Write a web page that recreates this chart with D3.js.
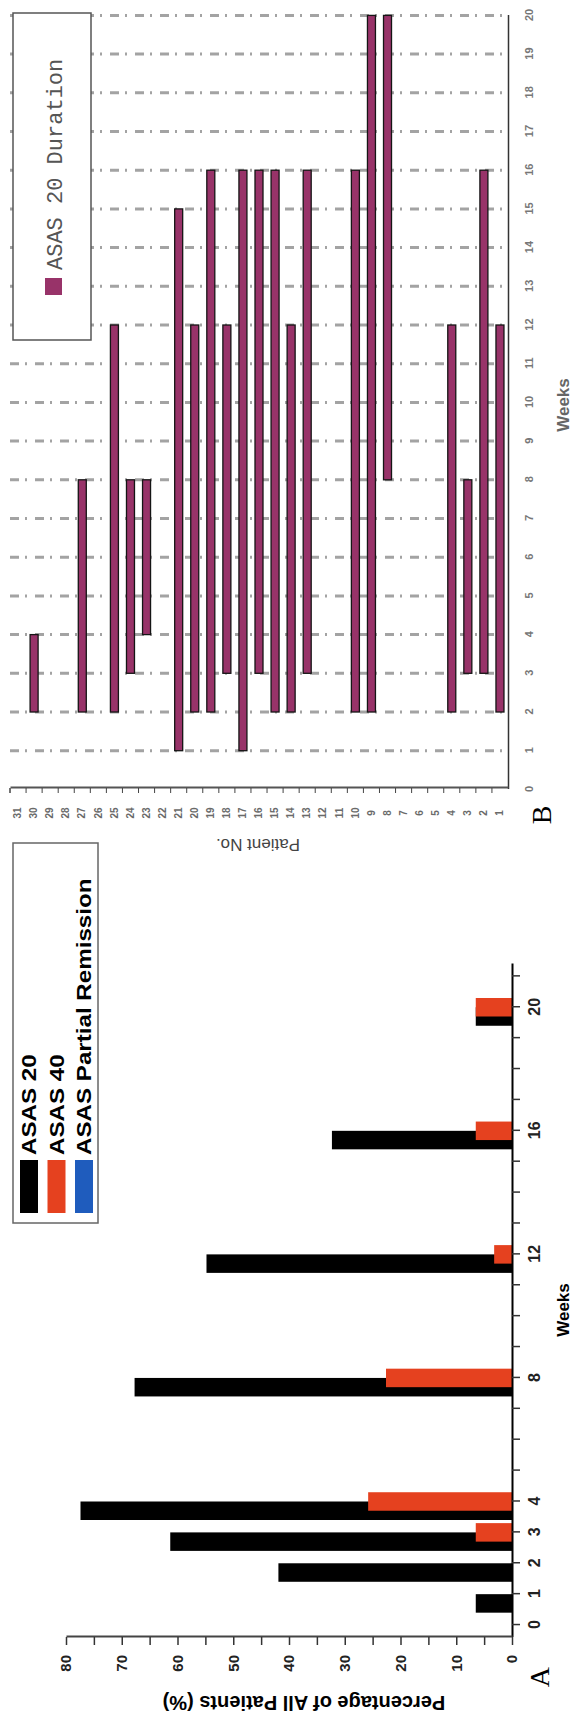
<!DOCTYPE html>
<html lang="en">
<head>
<meta charset="UTF-8">
<title>ASAS response and duration</title>
<script src="https://d3js.org/d3.v7.min.js"></script>
<style>
  body { margin: 0; background: #fff; }
  svg { display: block; font-family: "Liberation Sans", Arial, sans-serif; }
</style>
</head>
<body>
<div id="chart"></div>
<script>
// ---- panel A: percentage of all patients by week
const weeksA = [1, 2, 3, 4, 8, 12, 16, 20];
const asas20 = [6.5, 41.9, 61.3, 77.4, 67.7, 54.8, 32.3, 6.5];
const asas40 = [0, 0, 6.5, 25.8, 22.6, 3.2, 6.5, 6.5];
const asasPR = [0, 0, 0, 0, 0, 0, 0, 0];
const weekLabelsA = [0, 1, 2, 3, 4, 8, 12, 16, 20];
const pctLabels = [0, 10, 20, 30, 40, 50, 60, 70, 80];
const seriesNames = ["ASAS 20", "ASAS 40", "ASAS Partial Remission"];
const seriesColors = ["#000000", "#e5411f", "#1f5cbd"];

// ---- panel B: ASAS 20 duration per patient
const patients = [1,2,3,4,5,6,7,8,9,10,11,12,13,14,15,16,17,18,19,20,21,22,23,24,25,26,27,28,29,30,31];
const durPatient = [1, 2, 3, 4, 8, 9, 10, 13, 14, 15, 16, 17, 18, 19, 20, 21, 23, 24, 25, 27, 30];
const durStart   = [2, 3, 3, 2, 8, 2, 2, 3, 2, 2, 3, 1, 3, 2, 2, 1, 4, 3, 2, 2, 2];
const durEnd     = [12, 16, 8, 12, 20, 20, 16, 16, 12, 16, 16, 16, 12, 16, 12, 15, 8, 8, 12, 8, 4];
const weekLabelsB = [0,1,2,3,4,5,6,7,8,9,10,11,12,13,14,15,16,17,18,19,20];

// the whole figure is drawn upright and turned a quarter turn counter-clockwise
const W = 1719;
const svg = d3.select("#chart").append("svg")
    .attr("width", 575)
    .attr("height", 1719);
const g = svg.append("g").attr("transform", `translate(0,${W}) rotate(-90)`);

// ================= panel A =================
const xA = d3.scaleLinear().domain([-0.4, 21.4]).range([81.6, 755]);
const yA = d3.scaleLinear().domain([0, 80]).range([512, 66]);
const bw = 18.5;
const offsets = [-0.3, 0, 0.3];

const barData = [];
[asas20, asas40, asasPR].forEach((vals, si) => {
    weeksA.forEach((w, i) => barData.push({ s: si, week: w, v: vals[i] }));
});

g.append("g").selectAll("rect")
    .data(barData.filter(d => d.v > 0))
    .join("rect")
    .attr("x", d => xA(d.week + offsets[d.s]) - bw / 2)
    .attr("width", bw)
    .attr("y", d => yA(d.v))
    .attr("height", d => yA(0) - yA(d.v))
    .attr("fill", d => seriesColors[d.s]);

const axA = g.append("g")
    .attr("transform", "translate(0,512)")
    .call(d3.axisBottom(xA)
        .tickValues(d3.range(0, 22))
        .tickSize(8)
        .tickSizeOuter(0)
        .tickPadding(9)
        .tickFormat(d => weekLabelsA.includes(d) ? d : ""));
axA.select(".domain").attr("stroke", "#000").attr("stroke-width", 2);
axA.selectAll(".tick line").attr("stroke", "#333").attr("stroke-width", 1.5);
axA.selectAll("text").attr("font-size", 16).attr("font-weight", "bold").attr("fill", "#222");

const ayA = g.append("g")
    .attr("transform", "translate(82,0)")
    .call(d3.axisLeft(yA)
        .tickValues(d3.range(0, 85, 5))
        .tickSize(8)
        .tickSizeOuter(0)
        .tickPadding(10)
        .tickFormat(d => pctLabels.includes(d) ? d : ""));
ayA.select(".domain").attr("stroke", "#444").attr("stroke-width", 2);
ayA.selectAll(".tick line").attr("stroke", "#333").attr("stroke-width", 1.5);
ayA.selectAll("text").attr("font-size", 15).attr("font-weight", "bold").attr("fill", "#222");

g.append("text")
    .attr("transform", "translate(23,304) rotate(-90)")
    .attr("text-anchor", "middle")
    .attr("font-size", 20)
    .attr("font-weight", "bold")
    .text("Percentage of All Patients (%)");

g.append("text")
    .attr("x", 409).attr("y", 569)
    .attr("text-anchor", "middle")
    .attr("font-size", 17)
    .attr("font-weight", "bold")
    .text("Weeks");

g.append("text")
    .attr("x", 42).attr("y", 549)
    .attr("text-anchor", "middle")
    .attr("font-family", "Liberation Serif, Times New Roman, serif")
    .attr("font-size", 28)
    .text("A");

// legend A
const legA = g.append("g");
legA.append("rect")
    .attr("x", 496).attr("y", 13).attr("width", 380).attr("height", 85)
    .attr("fill", "#fff").attr("stroke", "#666").attr("stroke-width", 1.5);
seriesNames.forEach((name, i) => {
    legA.append("rect")
        .attr("x", 506).attr("y", 20 + i * 27.5).attr("width", 53).attr("height", 18)
        .attr("fill", seriesColors[i]);
    const t = legA.append("text")
        .attr("x", 564).attr("y", 36 + i * 27.5)
        .attr("font-size", 21).attr("font-weight", "bold")
        .text(name);
    // the original lettering is a little wider than Liberation Sans
    const len = t.node().getComputedTextLength();
    t.attr("textLength", len * 1.15).attr("lengthAdjust", "spacingAndGlyphs");
});

// ================= panel B =================
const xB = d3.scaleLinear().domain([0, 20]).range([929.6, 1703.6]);
const yB = d3.scaleBand().domain(patients.slice().reverse()).range([10, 508]);
const barColor = "#983369";

g.append("g").selectAll("line")
    .data(weekLabelsB.filter(w => w > 0))
    .join("line")
    .attr("x1", d => xB(d)).attr("x2", d => xB(d))
    .attr("y1", 10).attr("y2", 508)
    .attr("stroke", "#a3a3a3")
    .attr("stroke-width", 3)
    .attr("stroke-dasharray", "9,6,2,8");

const durData = durPatient.map((p, i) => ({ p, s: durStart[i], e: durEnd[i] }));
g.append("g").selectAll("rect")
    .data(durData)
    .join("rect")
    .attr("x", d => xB(d.s))
    .attr("width", d => xB(d.e) - xB(d.s))
    .attr("y", d => yB(d.p) + yB.bandwidth() / 2 - 4)
    .attr("height", 8)
    .attr("fill", barColor)
    .attr("stroke", "#151515")
    .attr("stroke-width", 1.3);

const axB = g.append("g")
    .attr("transform", "translate(0,508)")
    .call(d3.axisBottom(xB)
        .tickValues(weekLabelsB)
        .tickSize(0)
        .tickPadding(17));
axB.select(".domain").attr("stroke", "#333").attr("stroke-width", 1.5);
axB.selectAll("text").attr("font-size", 11).attr("font-weight", "bold").attr("fill", "#777");

const ayB = g.append("g")
    .attr("transform", "translate(931,0)")
    .call(d3.axisLeft(yB).tickSize(0).tickSizeOuter(0));
ayB.select(".domain").attr("stroke", "#555").attr("stroke-width", 2);
ayB.selectAll("text")
    .attr("x", -25).attr("text-anchor", "middle")
    .attr("font-size", 10).attr("font-weight", "bold").attr("fill", "#6a6a6a");
ayB.selectAll(".bound")
    .data(patients.map(p => yB(p)).concat([yB.range()[0]]))
    .join("line")
    .attr("class", "bound")
    .attr("x1", 0).attr("x2", -5)
    .attr("y1", d => d).attr("y2", d => d)
    .attr("stroke", "#444");

g.append("text")
    .attr("transform", "translate(880,258) rotate(-90)")
    .attr("text-anchor", "middle")
    .attr("font-size", 17)
    .attr("fill", "#444")
    .text("Patient No.");

g.append("text")
    .attr("x", 1314).attr("y", 569)
    .attr("text-anchor", "middle")
    .attr("font-size", 17)
    .attr("font-weight", "bold")
    .attr("fill", "#666")
    .text("Weeks");

g.append("text")
    .attr("x", 904).attr("y", 551)
    .attr("text-anchor", "middle")
    .attr("font-family", "Liberation Serif, Times New Roman, serif")
    .attr("font-size", 28)
    .text("B");

// legend B
const legB = g.append("g");
legB.append("rect")
    .attr("x", 1379).attr("y", 13).attr("width", 327).attr("height", 78)
    .attr("fill", "#fff").attr("stroke", "#555").attr("stroke-width", 1.5);
legB.append("rect")
    .attr("x", 1424).attr("y", 45).attr("width", 17).attr("height", 17)
    .attr("fill", barColor);
legB.append("text")
    .attr("x", 1449).attr("y", 62)
    .attr("font-family", "Liberation Mono, Courier New, monospace")
    .attr("font-size", 22)
    .attr("fill", "#555")
    .text("ASAS 20 Duration");
</script>
</body>
</html>
